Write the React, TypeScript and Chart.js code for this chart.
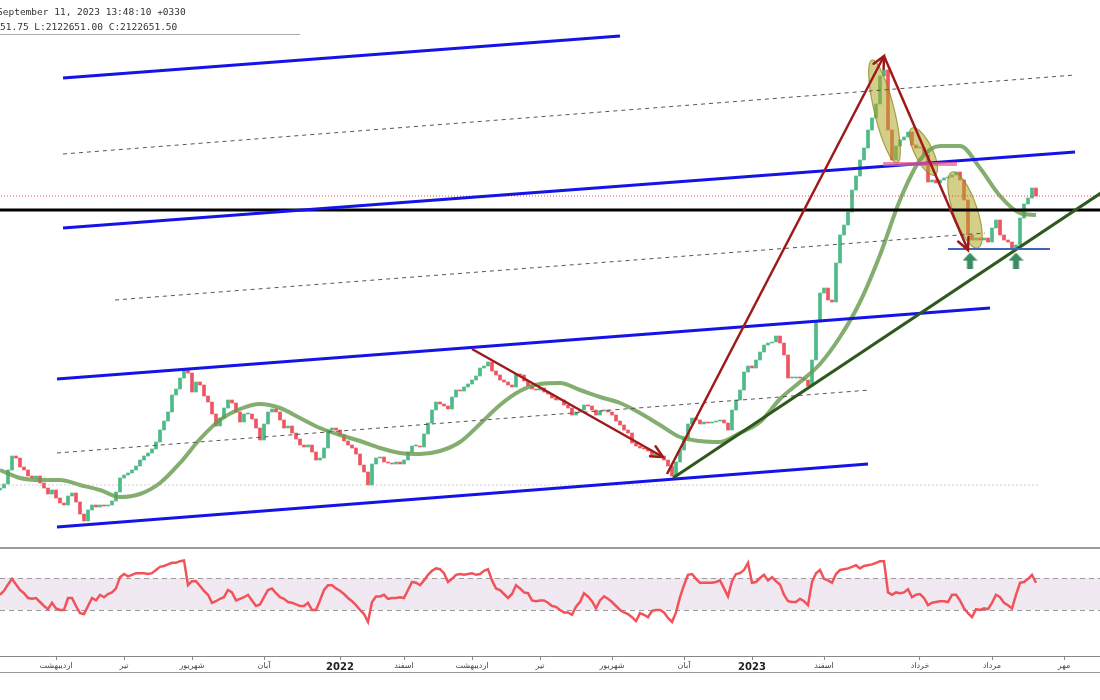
import React, { useEffect, useRef } from 'react';
import { Chart, registerables } from 'chart.js';

Chart.register(...registerables);

// ---------- DATA (bar index = trading session, price in thousand rials) ----------
const firstOpen = 650;
const closes: number[] = [
  660, 680, 750, 820, 810, 765, 750, 720, 710, 720,
  685, 660, 630, 650, 610, 585, 575, 620, 635, 590,
  530, 495, 550, 575, 565, 575, 570, 575, 595, 640,
  710, 725, 735, 750, 770, 800, 820, 835, 855, 890,
  950, 995, 1040, 1125, 1155, 1210, 1255, 1235, 1140, 1190,
  1175, 1120, 1090, 1030, 970, 1010, 1060, 1100, 1085, 1040,
  990, 1030, 1030, 1005, 960, 900, 980, 1040, 1055, 1040,
  1000, 960, 970, 935, 905, 875, 865, 875, 840, 800,
  810, 860, 950, 960, 950, 925, 895, 875, 860, 830,
  775, 740, 675, 780, 810, 815, 790, 785, 780, 790,
  780, 800, 840, 870, 870, 865, 930, 985, 1050, 1090,
  1080, 1070, 1055, 1115, 1150, 1145, 1165, 1180, 1200, 1220,
  1260, 1270, 1290, 1245, 1225, 1200, 1190, 1175, 1165, 1230,
  1225, 1195, 1170, 1155, 1150, 1160, 1140, 1130, 1110, 1100,
  1100, 1075, 1060, 1025, 1040, 1050, 1075, 1070, 1050, 1025,
  1045, 1050, 1040, 1025, 995, 975, 950, 935, 885, 870,
  860, 855, 845, 825, 825, 820, 800, 770, 720, 790,
  850, 910, 980, 1010, 1000, 980, 990, 985, 990, 995,
  1000, 985, 950, 1050, 1100, 1150, 1240, 1270, 1260, 1300,
  1340, 1375, 1385, 1390, 1420, 1385, 1325, 1210, 1210, 1215,
  1210, 1200, 1170, 1300, 1490, 1635, 1660, 1600, 1590, 1785,
  1925, 1975, 2040, 2150, 2220, 2300, 2360, 2450, 2510, 2580,
  2720, 2750, 2450, 2300, 2370, 2400, 2415, 2440, 2375, 2360,
  2360, 2325, 2190, 2200, 2185, 2200, 2210, 2215, 2225, 2240,
  2200, 2100, 1925, 1900, 1910, 1900, 1910, 1890, 1960, 2000,
  1925, 1900, 1890, 1860, 1875, 2010, 2080, 2110, 2160, 2120,
];

const maIndex: number[] = [
  0, 5, 10, 15, 20, 25, 30, 35, 40, 45, 50, 55, 60, 65, 70, 75, 80, 85, 90, 95,
  100, 105, 110, 115, 120, 125, 130, 135, 140, 145, 150, 155, 160, 165, 170, 175,
  180, 185, 190, 195, 200, 205, 210, 215, 220, 225, 230, 235, 240, 245, 250, 255, 259,
];
const maValues: number[] = [
  750, 710, 700, 700, 675, 650, 615, 630, 685, 785, 905, 1000, 1055, 1080, 1060, 1010, 960, 925, 895, 860,
  835, 830, 845, 890, 980, 1075, 1145, 1180, 1185, 1150, 1115, 1085, 1035, 975, 915, 895,
  890, 935, 990, 1105, 1190, 1280, 1415, 1590, 1825, 2100, 2300, 2370, 2370, 2260, 2120, 2035, 2025,
];

const rsiValues: number[] = [
  49, 54, 62, 69, 62, 55, 51, 45, 44, 45,
  40, 35, 31, 39, 32, 30, 30, 45, 45, 35,
  26, 25, 35, 45, 42, 49, 46, 50, 52, 57,
  71, 75, 72, 74, 76, 76, 76, 75, 76, 80,
  84, 85, 87, 89, 89, 91, 92, 61, 66, 66,
  60, 54, 49, 39, 41, 44, 46, 55, 52, 42,
  44, 46, 49, 42, 35, 37, 46, 55, 57, 51,
  46, 44, 40, 39, 37, 35, 35, 39, 30, 30,
  42, 55, 61, 61, 57, 54, 50, 45, 41, 36,
  30, 25, 15, 40, 47, 47, 49, 44, 45, 45,
  46, 45, 55, 65, 64, 61, 67, 74, 79, 82,
  81, 76, 65, 69, 74, 75, 74, 75, 76, 74,
  75, 79, 81, 67, 57, 55, 50, 45, 50, 61,
  57, 52, 51, 42, 41, 42, 42, 39, 35, 34,
  30, 27, 27, 24, 34, 40, 51, 47, 41, 32,
  42, 47, 44, 40, 35, 30, 27, 25, 21, 16,
  26, 24, 21, 29, 30, 30, 27, 20, 15, 27,
  46, 61, 74, 75, 69, 64, 64, 64, 64, 65,
  67, 57, 47, 66, 75, 76, 80, 89, 64, 65,
  70, 74, 67, 71, 66, 62, 49, 41, 40, 40,
  44, 41, 36, 65, 76, 80, 69, 67, 64, 75,
  80, 81, 82, 84, 86, 82, 85, 86, 87, 89,
  91, 91, 52, 49, 52, 51, 52, 56, 46, 49,
  50, 45, 36, 39, 40, 41, 41, 40, 49, 49,
  42, 32, 26, 21, 31, 30, 32, 31, 39, 49,
  46, 39, 36, 32, 49, 64, 65, 69, 74, 64,
];
const rsiUpper = 70;
const rsiLower = 30;

const tickIdx: number[] = [14, 31, 48, 66, 85, 101, 118, 135, 153, 171, 188, 206, 230, 248, 266];
const tickLabels: string[] = [
  'اردیبهشت', 'تیر', 'شهریور', 'آبان', '2022', 'اسفند', 'اردیبهشت', 'تیر',
  'شهریور', 'آبان', '2023', 'اسفند', 'خرداد', 'مرداد', 'مهر',
];

const headerLine1 = 'September 11, 2023 13:48:10 +0330';
const headerLine2 = '51.75 L:2122651.00 C:2122651.50';

// drawings: [index1, price1, index2, price2]
const channelLines: number[][] = [
  [15.75, 2710, 155, 2920],
  [15.75, 1960, 268.75, 2340],
  [14.25, 1205, 247.5, 1560],
  [14.25, 465, 217, 780],
];
const dashedLines: number[][] = [
  [15.75, 2330, 268.75, 2725],
  [28.75, 1600, 246.25, 1935],
  [14.25, 835, 217.5, 1150],
];
const supportLevel = 2050;
const baseLevel = 675;
const riseTrend: number[] = [168.25, 710, 276, 2145];
const arrowLines: number[][] = [
  [118, 1355, 165.75, 815],
  [166.75, 730, 221, 2820],
  [221, 2820, 242, 1850],
];
const pinkZone: number[] = [220.75, 2280, 239.25, 2280];
const floorZone: number[] = [237, 1855, 262.5, 1855];
const markerIdx: number[] = [242.5, 254];
const markerPrice = 1797;
const ellipses: number[][] = [
  [218, 2800, 224.25, 2285],
  [228, 2460, 233.75, 2225],
  [238, 2240, 244.5, 1860],
];

// ---------- STYLE ----------
const UP = '#4cbb85';
const DOWN = '#ef5560';
const ellipseHalfWidth = [10, 9, 12];
const X_MIN = 0;
const X_MAX = 275;
const P_MIN = 360;
const P_MAX = 3100;

const seg = (a: number[], color: string, width: number, dash: number[] = []) => ({
  type: 'line' as const,
  data: [
    { x: a[0], y: a[1] },
    { x: a[2], y: a[3] },
  ],
  borderColor: color,
  borderWidth: width,
  borderDash: dash,
  pointRadius: 0,
  fill: false,
  tension: 0,
});

function makeArrowCanvas(color: string) {
  const c = document.createElement('canvas');
  c.width = 15;
  c.height = 16;
  const g = c.getContext('2d')!;
  g.fillStyle = color;
  g.beginPath();
  g.moveTo(7.5, 0);
  g.lineTo(15, 8);
  g.lineTo(10.5, 8);
  g.lineTo(10.5, 16);
  g.lineTo(4.5, 16);
  g.lineTo(4.5, 8);
  g.lineTo(0, 8);
  g.closePath();
  g.fill();
  return c;
}

const ellipsePlugin = {
  id: 'ellipses',
  afterDatasetDraw(chart: any, args: any) {
    if (args.meta.type !== 'bar') return;
    const { ctx } = chart;
    const x = chart.scales.x;
    const y = chart.scales.y;
    ellipses.forEach((e, k) => {
      const x1 = x.getPixelForValue(e[0]);
      const y1 = y.getPixelForValue(e[1]);
      const x2 = x.getPixelForValue(e[2]);
      const y2 = y.getPixelForValue(e[3]);
      const cx = (x1 + x2) / 2;
      const cy = (y1 + y2) / 2;
      const len = Math.hypot(x2 - x1, y2 - y1) / 2;
      const ang = Math.atan2(y2 - y1, x2 - x1);
      ctx.save();
      ctx.beginPath();
      ctx.ellipse(cx, cy, len, ellipseHalfWidth[k], ang, 0, Math.PI * 2);
      ctx.fillStyle = 'rgba(175,168,40,0.55)';
      ctx.fill();
      ctx.strokeStyle = 'rgba(140,135,30,0.75)';
      ctx.lineWidth = 1.2;
      ctx.stroke();
      ctx.restore();
    });
  },
};

const arrowHeadPlugin = {
  id: 'arrowHeads',
  afterDatasetsDraw(chart: any) {
    const { ctx } = chart;
    const x = chart.scales.x;
    const y = chart.scales.y;
    ctx.save();
    ctx.strokeStyle = '#9e1a1a';
    ctx.lineWidth = 2.5;
    ctx.lineCap = 'round';
    arrowLines.forEach((a) => {
      const x1 = x.getPixelForValue(a[0]);
      const y1 = y.getPixelForValue(a[1]);
      const x2 = x.getPixelForValue(a[2]);
      const y2 = y.getPixelForValue(a[3]);
      const ang = Math.atan2(y2 - y1, x2 - x1);
      const L = 13;
      ctx.beginPath();
      ctx.moveTo(x2 - L * Math.cos(ang - 0.45), y2 - L * Math.sin(ang - 0.45));
      ctx.lineTo(x2, y2);
      ctx.lineTo(x2 - L * Math.cos(ang + 0.45), y2 - L * Math.sin(ang + 0.45));
      ctx.stroke();
    });
    ctx.restore();
  },
};

const rsiBandPlugin = {
  id: 'rsiBand',
  beforeDatasetsDraw(chart: any) {
    const { ctx, chartArea: a } = chart;
    const y = chart.scales.y;
    const yU = y.getPixelForValue(rsiUpper);
    const yL = y.getPixelForValue(rsiLower);
    ctx.save();
    ctx.fillStyle = 'rgba(140,70,150,0.12)';
    ctx.fillRect(a.left, yU, a.right - a.left, yL - yU);
    ctx.strokeStyle = '#9a9a9a';
    ctx.lineWidth = 1;
    ctx.setLineDash([5, 4]);
    [yU, yL].forEach((yy) => {
      ctx.beginPath();
      ctx.moveTo(a.left, Math.round(yy) + 0.5);
      ctx.lineTo(a.right, Math.round(yy) + 0.5);
      ctx.stroke();
    });
    ctx.restore();
  },
};

export default function App() {
  const mainRef = useRef<HTMLCanvasElement>(null);
  const rsiRef = useRef<HTMLCanvasElement>(null);

  useEffect(() => {
    const opens = closes.map((c, i) => (i === 0 ? firstOpen : closes[i - 1]));
    const candleData = closes.map((c, i) => ({ x: i, y: [opens[i], c] }));
    const candleColors = closes.map((c, i) => (c >= opens[i] ? UP : DOWN));
    const lastIdx = closes.length - 1;
    const lastPrice = closes[lastIdx];
    const arrowImg = makeArrowCanvas('#3b8a60');

    const datasets: any[] = [
      ...arrowLines.map((a) => seg(a, '#9e1a1a', 2.5)),
      seg(pinkZone, 'rgba(235,95,140,0.75)', 4),
      {
        type: 'line',
        data: markerIdx.map((i) => ({ x: i, y: markerPrice })),
        showLine: false,
        pointStyle: arrowImg,
        pointRadius: 8,
      },
      seg(floorZone, '#3f66b8', 2),
      seg(riseTrend, '#2d5a1c', 3),
      ...channelLines.map((a) => seg(a, '#1414e6', 3)),
      seg([X_MIN - 5, supportLevel, X_MAX + 5, supportLevel], '#000000', 3),
      seg([X_MIN - 5, lastPrice, X_MAX + 5, lastPrice], 'rgba(235,60,60,0.9)', 1, [1, 2]),
      ...dashedLines.map((a) => seg(a, '#555555', 1, [4, 4])),
      seg([X_MIN - 5, baseLevel, 260, baseLevel], 'rgba(190,170,175,0.6)', 1, [2, 2]),
      {
        type: 'line',
        data: maIndex.map((i, k) => ({ x: i, y: maValues[k] })),
        borderColor: 'rgba(105,155,80,0.82)',
        borderWidth: 4,
        pointRadius: 0,
        cubicInterpolationMode: 'monotone',
        fill: false,
      },
      {
        type: 'bar',
        data: candleData,
        backgroundColor: candleColors,
        borderWidth: 0,
        barThickness: 3,
        minBarLength: 1,
        grouped: false,
      },
    ];

    const main = new Chart(mainRef.current!, {
      type: 'bar',
      data: { datasets },
      options: {
        responsive: false,
        animation: false,
        events: [],
        layout: { padding: 0, autoPadding: false },
        plugins: { legend: { display: false }, tooltip: { enabled: false } },
        scales: {
          x: { type: 'linear', display: false, min: X_MIN, max: X_MAX, offset: false },
          y: { type: 'linear', display: false, min: P_MIN, max: P_MAX },
        },
      } as any,
      plugins: [ellipsePlugin, arrowHeadPlugin],
    });

    const rsi = new Chart(rsiRef.current!, {
      type: 'line',
      data: {
        datasets: [
          {
            data: rsiValues.map((v, i) => ({ x: i, y: v })),
            borderColor: '#f2525a',
            borderWidth: 2.5,
            pointRadius: 0,
            tension: 0,
            fill: false,
          },
        ],
      },
      options: {
        responsive: false,
        animation: false,
        events: [],
        layout: { padding: 0, autoPadding: false },
        plugins: { legend: { display: false }, tooltip: { enabled: false } },
        scales: {
          x: {
            type: 'linear',
            min: X_MIN,
            max: X_MAX,
            offset: false,
            afterBuildTicks: (s: any) => {
              s.ticks = tickIdx.map((v) => ({ value: v }));
            },
            afterFit: (s: any) => {
              s.height = 16;
            },
            ticks: {
              autoSkip: false,
              maxRotation: 0,
              minRotation: 0,
              padding: 1,
              callback: (v: any) => {
                const k = tickIdx.indexOf(Number(v));
                return k >= 0 ? tickLabels[k] : '';
              },
              color: (c: any) => (/^\d+$/.test(tickLabels[c.index] || '') ? '#222' : '#444'),
              font: (c: any) =>
                /^\d+$/.test(tickLabels[c.index] || '')
                  ? { family: 'DejaVu Sans', size: 10, weight: 'bold' }
                  : { family: 'DejaVu Sans', size: 8 },
            },
            grid: { display: true, drawOnChartArea: false, drawTicks: true, tickLength: 4, color: '#888' },
            border: { display: true, color: '#888', width: 1 },
          },
          y: { type: 'linear', display: false, min: -27.5, max: 107.5 },
        },
      } as any,
      plugins: [rsiBandPlugin],
    });

    return () => {
      main.destroy();
      rsi.destroy();
    };
  }, []);

  const mono: React.CSSProperties = {
    position: 'absolute',
    fontFamily: '"DejaVu Sans Mono", monospace',
    fontSize: 9.5,
    color: '#333',
    whiteSpace: 'nowrap',
    lineHeight: '12px',
  };

  return (
    <div
      style={{
        position: 'absolute',
        left: 0,
        top: 0,
        width: 1100,
        height: 700,
        overflow: 'hidden',
        background: '#fff',
      }}
    >
      <canvas ref={mainRef} width={1100} height={548} style={{ position: 'absolute', left: 0, top: 0 }} />
      <div style={{ ...mono, left: -3, top: 6 }}>{headerLine1}</div>
      <div style={{ ...mono, left: 0, top: 21 }}>{headerLine2}</div>
      <div style={{ position: 'absolute', left: 0, top: 34, width: 300, height: 1, background: '#aaa' }} />
      <div style={{ position: 'absolute', left: 0, top: 547, width: 1100, height: 2, background: '#9a9a9a' }} />
      <canvas ref={rsiRef} width={1100} height={124} style={{ position: 'absolute', left: 0, top: 548 }} />
      <div style={{ position: 'absolute', left: 0, top: 672, width: 1100, height: 1, background: '#999' }} />
    </div>
  );
}
